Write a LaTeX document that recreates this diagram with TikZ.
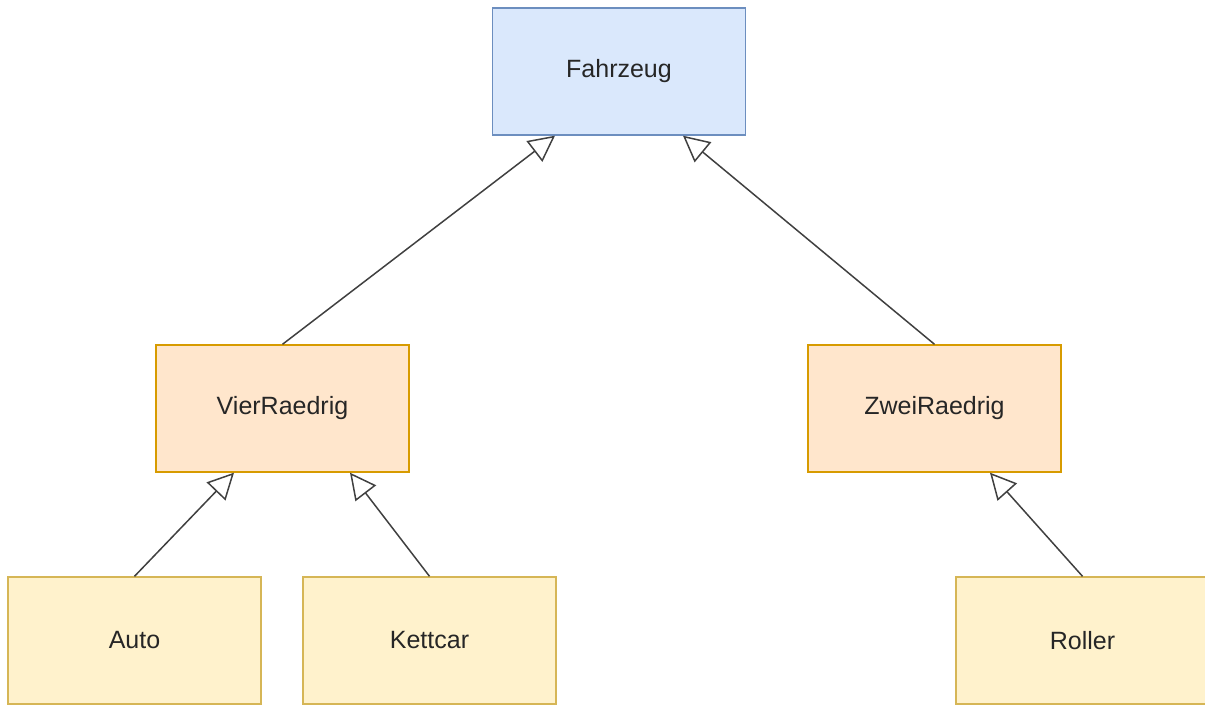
\documentclass[tikz,border=0pt]{standalone}
\usepackage{fontspec}
\setmainfont{Liberation Sans}
\usetikzlibrary{positioning, arrows.meta, calc}

\definecolor{baseblue}{HTML}{DAE8FC}
\definecolor{basebluedraw}{HTML}{6C8EBF}
\definecolor{midpeach}{HTML}{FFE6CC}
\definecolor{midpeachdraw}{HTML}{D79B00}
\definecolor{leafyellow}{HTML}{FFF2CC}
\definecolor{leafyellowdraw}{HTML}{D6B656}

\begin{document}
\begin{tikzpicture}[
        x=0.5pt, y=-0.5pt,
        >={Triangle[open, length=13pt, width=13pt]},
        class/.style={rectangle, line width=0.7pt, minimum width=126.5pt, minimum height=63.5pt,
            text=black!85, font=\fontsize{12.5}{15}\selectfont},
        base/.style={class, fill=baseblue, draw=basebluedraw},
        mid/.style={class, fill=midpeach, draw=midpeachdraw},
        leaf/.style={class, fill=leafyellow, draw=leafyellowdraw},
        inherit/.style={->, draw=black!75, line width=0.75pt},
    ]

        \clip (0,0) rectangle (1205,705);

        % Draw the base class
        \node[base] (Fahrzeug) at (619,71.5) {Fahrzeug};

        % Draw the middle classes
        \node[mid] (VierRaedrig) at (282.5,408.5) {VierRaedrig};
        \node[mid] (ZweiRaedrig) at (934.5,408.5) {ZweiRaedrig};

        % Draw the leaf classes
        \foreach \name / \x in {Auto/134.5, Kettcar/429.5, Roller/1082.5}
            \node[leaf] (\name) at (\x,640.5) {\name};

        % Connect every subclass with its superclass
        \foreach \child / \parent / \dx in {VierRaedrig/Fahrzeug/-64, ZweiRaedrig/Fahrzeug/64,
                Auto/VierRaedrig/-48.5, Kettcar/VierRaedrig/67.5, Roller/ZweiRaedrig/55.5}
            \draw[inherit] (\child.north) -- ($(\parent.south)+(\dx,0)$);
\end{tikzpicture}
\end{document}
